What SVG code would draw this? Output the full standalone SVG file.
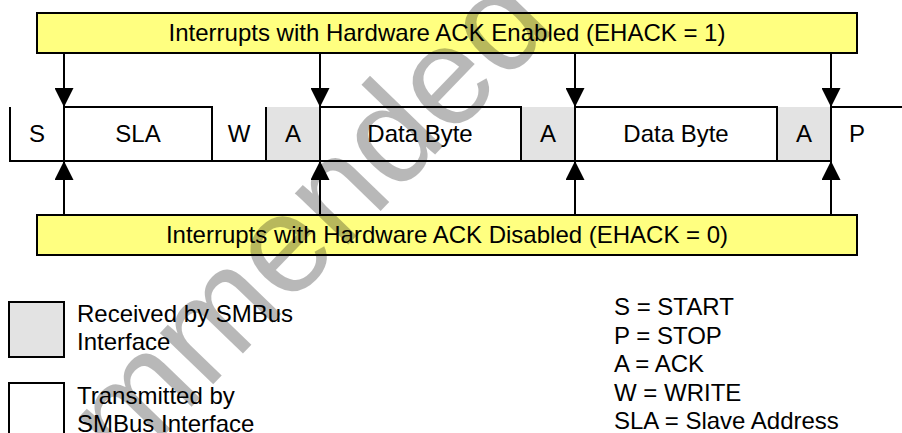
<svg xmlns="http://www.w3.org/2000/svg" width="902" height="433" viewBox="0 0 902 433">
<style>
text{font-family:"Liberation Sans",Arial,sans-serif;font-size:24px;fill:#000}
.c{text-anchor:middle}
.band{fill:#ffff80;stroke:#000;stroke-width:2}
.ln{stroke:#000;stroke-width:2;fill:none}
.rx{fill:#e3e3e3;stroke:none}
.lg{stroke:#000;stroke-width:2}
.wm{font-size:140px;fill:#000;fill-opacity:0.28}
</style>
<defs>
<marker id="ah" viewBox="0 0 20 20" refX="20" refY="10" markerWidth="19" markerHeight="19" markerUnits="userSpaceOnUse" orient="auto">
<path d="M0,0 L20,10 L0,20 z" fill="#000"/>
</marker>
</defs>
<rect width="902" height="433" fill="#fff"/>
<g id="band-enabled">
<rect class="band" x="37" y="13" width="820" height="40"/>
<text class="c" x="447" y="41">Interrupts with Hardware ACK Enabled (EHACK = 1)</text>
</g>
<g id="band-disabled">
<rect class="band" x="37" y="215" width="820" height="40"/>
<text class="c" x="447" y="243">Interrupts with Hardware ACK Disabled (EHACK = 0)</text>
</g>
<g id="frame">
<rect class="rx" x="266" y="107" width="54" height="54"/>
<rect class="rx" x="521" y="107" width="54" height="54"/>
<rect class="rx" x="777" y="107" width="54" height="54"/>
<path class="ln" d="M10,107 V161 H831 M64,107 H212 V161 M266,107 V161 M320,107 H521 V161 M575,107 H777 V161 M831,107 H902 M64,107 V161 M320,107 V161 M575,107 V161 M831,107 V161"/>
<text class="c" x="37" y="142">S</text>
<text class="c" x="138" y="142">SLA</text>
<text class="c" x="239" y="142">W</text>
<text class="c" x="293" y="142">A</text>
<text class="c" x="420" y="142">Data Byte</text>
<text class="c" x="548" y="142">A</text>
<text class="c" x="676" y="142">Data Byte</text>
<text class="c" x="804" y="142">A</text>
<text class="c" x="857" y="142">P</text>
</g>
<g id="connectors">
<line class="ln" x1="64" y1="53" x2="64" y2="107" marker-end="url(#ah)"/>
<line class="ln" x1="320" y1="53" x2="320" y2="107" marker-end="url(#ah)"/>
<line class="ln" x1="575" y1="53" x2="575" y2="107" marker-end="url(#ah)"/>
<line class="ln" x1="831" y1="53" x2="831" y2="107" marker-end="url(#ah)"/>
<line class="ln" x1="64" y1="215" x2="64" y2="161" marker-end="url(#ah)"/>
<line class="ln" x1="320" y1="215" x2="320" y2="161" marker-end="url(#ah)"/>
<line class="ln" x1="575" y1="215" x2="575" y2="161" marker-end="url(#ah)"/>
<line class="ln" x1="831" y1="215" x2="831" y2="161" marker-end="url(#ah)"/>
</g>
<g id="legend-received">
<rect class="lg" x="9" y="302" width="55" height="55" fill="#e3e3e3"/>
<text x="77" y="322">Received by SMBus</text>
<text x="77" y="350">Interface</text>
</g>
<g id="legend-transmitted">
<rect class="lg" x="9" y="383" width="55" height="55" fill="#fff"/>
<text x="77" y="404">Transmitted by</text>
<text x="77" y="432">SMBus Interface</text>
</g>
<g id="legend-abbrev">
<text x="614" y="315">S = START</text>
<text x="614" y="344">P = STOP</text>
<text x="614" y="372">A = ACK</text>
<text x="614" y="401">W = WRITE</text>
<text x="614" y="429">SLA = Slave Address</text>
</g>
<g id="watermark">
<text class="wm" transform="translate(-280,895) rotate(-46)">Not Recommended for New Designs</text>
</g>
</svg>
